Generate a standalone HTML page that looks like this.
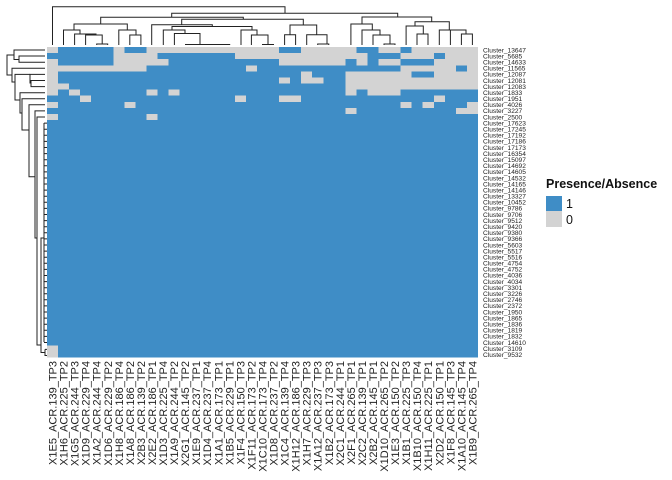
<!DOCTYPE html>
<html><head><meta charset="utf-8"><style>
html,body{margin:0;padding:0;background:#fff;}
svg{display:block;font-family:"Liberation Sans",sans-serif;}
</style></head><body>
<svg width="672" height="480" viewBox="0 0 672 480" xmlns="http://www.w3.org/2000/svg">
<g transform="translate(47,47) scale(11.05,6.09)" shape-rendering="crispEdges">
<rect x="0" y="0" width="39" height="51" fill="#3F8DC6"/>
<g fill="#D3D3D3">
<rect x="0" y="0" width="1" height="1"/><rect x="6" y="0" width="1" height="1"/><rect x="9" y="0" width="12" height="1"/><rect x="23" y="0" width="5" height="1"/><rect x="30" y="0" width="2" height="1"/><rect x="33" y="0" width="6" height="1"/>
<rect x="6" y="1" width="4" height="1"/><rect x="17" y="1" width="12" height="1"/><rect x="32" y="1" width="3" height="1"/><rect x="36" y="1" width="3" height="1"/>
<rect x="0" y="2" width="1" height="1"/><rect x="6" y="2" width="5" height="1"/><rect x="21" y="2" width="6" height="1"/><rect x="28" y="2" width="1" height="1"/><rect x="30" y="2" width="2" height="1"/><rect x="35" y="2" width="4" height="1"/>
<rect x="0" y="3" width="9" height="1"/><rect x="18" y="3" width="1" height="1"/><rect x="32" y="3" width="5" height="1"/><rect x="38" y="3" width="1" height="1"/>
<rect x="0" y="4" width="1" height="1"/><rect x="23" y="4" width="1" height="1"/><rect x="27" y="4" width="6" height="1"/><rect x="35" y="4" width="4" height="1"/>
<rect x="0" y="5" width="1" height="1"/><rect x="21" y="5" width="1" height="1"/><rect x="23" y="5" width="2" height="1"/><rect x="27" y="5" width="12" height="1"/>
<rect x="0" y="6" width="2" height="1"/><rect x="27" y="6" width="12" height="1"/>
<rect x="0" y="7" width="1" height="1"/><rect x="2" y="7" width="1" height="1"/><rect x="9" y="7" width="1" height="1"/><rect x="11" y="7" width="1" height="1"/><rect x="27" y="7" width="1" height="1"/><rect x="29" y="7" width="3" height="1"/>
<rect x="3" y="8" width="1" height="1"/><rect x="17" y="8" width="1" height="1"/><rect x="21" y="8" width="2" height="1"/><rect x="35" y="8" width="1" height="1"/>
<rect x="0" y="9" width="1" height="1"/><rect x="7" y="9" width="1" height="1"/><rect x="32" y="9" width="1" height="1"/><rect x="34" y="9" width="1" height="1"/><rect x="38" y="9" width="1" height="1"/>
<rect x="27" y="10" width="1" height="1"/><rect x="37" y="10" width="2" height="1"/>
<rect x="0" y="11" width="1" height="1"/><rect x="9" y="11" width="1" height="1"/>
<rect x="0" y="49" width="1" height="2"/>
</g></g>

<!-- top dendrogram -->
<g stroke="#222" stroke-width="1" fill="none">
<path d="M52.5,45V6.7H285V13.3"/>
<path d="M171.7,17.3V13.3H397.7V17"/>
<path d="M100.7,24V17.3H243.3V19.3"/>
<path d="M74,30V24H127.3V30"/>
<path d="M63.5,45V30H80V34"/>
<path d="M74.6,45V34H96V35"/>
<path d="M85.6,45V35H102.2V44"/>
<path d="M96.7,45V44H107.7V45"/>
<path d="M118.8,45V30H136V35"/>
<path d="M129.8,45V35H140.9V45"/>
<path d="M181.7,24.7V19.3H303.3V25"/>
<path d="M151.7,45V24.7H212.3V26.5"/>
<path d="M172,30V26.5H252V30"/>
<path d="M163.3,45V30H185V33.5"/>
<path d="M174.4,45V33.5H200V44.5"/>
<path d="M185.5,45V44.5H229.7V45M196.5,44.5V45M207.5,44.5V45M218.6,44.5V45"/>
<path d="M241,45V30H257V35"/>
<path d="M251.4,45V35H268V44.5"/>
<path d="M262.5,45V44.5H273.5V45"/>
<path d="M290,34.7V25H316.7V34.7"/>
<path d="M284.6,45V34.7H295.6V45"/>
<path d="M306.7,45V34.7H327V44"/>
<path d="M317.7,45V44H328.8V45"/>
<path d="M362,24V17H431.7V21.7"/>
<path d="M350.9,45V24H372.3V30"/>
<path d="M362,45V30H380V35"/>
<path d="M373,45V35H390V44"/>
<path d="M384,45V44H395V45"/>
<path d="M415,26V21.7H449.3V30"/>
<path d="M406.1,45V26H423.3V34"/>
<path d="M417,45V34H428V45"/>
<path d="M439.3,45V30H458.3V30"/>
<path d="M458.3,30V30H450.4V45M458.3,30H466V34"/>
<path d="M461.4,45V34H472.4V45"/>
</g>

<!-- left dendrogram -->
<g stroke="#222" stroke-width="1" fill="none">
<path d="M14,55H7V75H12"/>
<path d="M45,50H14V59.5H19"/>
<path d="M45,56H19V62.2H45"/>
<path d="M45,68.3H12V82H15"/>
<path d="M30,74.4H15V100H20"/>
<path d="M45,74.4H30V83H31"/>
<path d="M45,80.5H31V86.6H45"/>
<path d="M45,92.7H20V113H22"/>
<path d="M45,98.7H22V130H29"/>
<path d="M45,104.8H29V176.7H35"/>
<path d="M45,110.9H35V238H37"/>
<path d="M45,117H37V345H41"/>
<path d="M44,238H41V352.5H45"/>
<path d="M44,123V342"/>
<path d="M45,349.4V355.5H47M45,349.4H47"/>
</g>
<g stroke="#222" stroke-width="1">
<path d="M44,123.1H47M44,129.2H47M44,135.3H47M44,141.4H47M44,147.5H47M44,153.6H47M44,159.7H47M44,165.8H47M44,171.9H47M44,178H47M44,184H47M44,190.1H47M44,196.2H47M44,202.3H47M44,208.4H47M44,214.5H47M44,220.6H47M44,226.7H47M44,232.8H47M44,238.9H47M44,245H47M44,251.1H47M44,257.2H47M44,263.3H47M44,269.4H47M44,275.5H47M44,281.6H47M44,287.7H47M44,293.7H47M44,299.8H47M44,305.9H47M44,312H47M44,318.1H47M44,324.2H47M44,330.3H47M44,336.4H47M44,342.5H47"/>
</g>

<!-- row labels -->
<g font-size="6.6" fill="#222">
<text x="483" y="52.3">Cluster_13647</text>
<text x="483" y="58.4">Cluster_5685</text>
<text x="483" y="64.5">Cluster_14633</text>
<text x="483" y="70.6">Cluster_11565</text>
<text x="483" y="76.7">Cluster_12087</text>
<text x="483" y="82.8">Cluster_12081</text>
<text x="483" y="88.9">Cluster_12083</text>
<text x="483" y="95.0">Cluster_1833</text>
<text x="483" y="101.0">Cluster_1951</text>
<text x="483" y="107.1">Cluster_4026</text>
<text x="483" y="113.2">Cluster_3227</text>
<text x="483" y="119.3">Cluster_2500</text>
<text x="483" y="125.4">Cluster_17623</text>
<text x="483" y="131.5">Cluster_17245</text>
<text x="483" y="137.6">Cluster_17192</text>
<text x="483" y="143.7">Cluster_17186</text>
<text x="483" y="149.8">Cluster_17173</text>
<text x="483" y="155.9">Cluster_16354</text>
<text x="483" y="162.0">Cluster_15097</text>
<text x="483" y="168.1">Cluster_14692</text>
<text x="483" y="174.2">Cluster_14605</text>
<text x="483" y="180.3">Cluster_14532</text>
<text x="483" y="186.3">Cluster_14165</text>
<text x="483" y="192.4">Cluster_14146</text>
<text x="483" y="198.5">Cluster_13327</text>
<text x="483" y="204.6">Cluster_10452</text>
<text x="483" y="210.7">Cluster_9786</text>
<text x="483" y="216.8">Cluster_9706</text>
<text x="483" y="222.9">Cluster_9512</text>
<text x="483" y="229.0">Cluster_9420</text>
<text x="483" y="235.1">Cluster_9380</text>
<text x="483" y="241.2">Cluster_9366</text>
<text x="483" y="247.3">Cluster_5603</text>
<text x="483" y="253.4">Cluster_5517</text>
<text x="483" y="259.5">Cluster_5516</text>
<text x="483" y="265.6">Cluster_4754</text>
<text x="483" y="271.6">Cluster_4752</text>
<text x="483" y="277.7">Cluster_4036</text>
<text x="483" y="283.8">Cluster_4034</text>
<text x="483" y="289.9">Cluster_3301</text>
<text x="483" y="296.0">Cluster_3226</text>
<text x="483" y="302.1">Cluster_2746</text>
<text x="483" y="308.2">Cluster_2372</text>
<text x="483" y="314.3">Cluster_1950</text>
<text x="483" y="320.4">Cluster_1865</text>
<text x="483" y="326.5">Cluster_1836</text>
<text x="483" y="332.6">Cluster_1819</text>
<text x="483" y="338.7">Cluster_1832</text>
<text x="483" y="344.8">Cluster_14610</text>
<text x="483" y="350.9">Cluster_3109</text>
<text x="483" y="356.9">Cluster_9532</text>
</g>

<!-- column labels -->
<g font-size="11" fill="#222" text-anchor="end">
<text transform="translate(56.5,361) rotate(-90)">X1E5_ACR.139_TP3</text>
<text transform="translate(67.6,361) rotate(-90)">X1H6_ACR.225_TP2</text>
<text transform="translate(78.6,361) rotate(-90)">X1G5_ACR.244_TP3</text>
<text transform="translate(89.7,361) rotate(-90)">X1D9_ACR.229_TP4</text>
<text transform="translate(100.7,361) rotate(-90)">X1A2_ACR.244_TP4</text>
<text transform="translate(111.8,361) rotate(-90)">X1D6_ACR.229_TP2</text>
<text transform="translate(122.8,361) rotate(-90)">X1H8_ACR.186_TP4</text>
<text transform="translate(133.9,361) rotate(-90)">X1A8_ACR.186_TP2</text>
<text transform="translate(144.9,361) rotate(-90)">X2B3_ACR.139_TP2</text>
<text transform="translate(156.0,361) rotate(-90)">X2E2_ACR.186_TP1</text>
<text transform="translate(167.0,361) rotate(-90)">X1D3_ACR.225_TP4</text>
<text transform="translate(178.1,361) rotate(-90)">X1A9_ACR.244_TP2</text>
<text transform="translate(189.1,361) rotate(-90)">X2G1_ACR.145_TP2</text>
<text transform="translate(200.2,361) rotate(-90)">X1E9_ACR.237_TP1</text>
<text transform="translate(211.2,361) rotate(-90)">X1D4_ACR.237_TP4</text>
<text transform="translate(222.3,361) rotate(-90)">X1A1_ACR.173_TP1</text>
<text transform="translate(233.3,361) rotate(-90)">X1B5_ACR.229_TP1</text>
<text transform="translate(244.4,361) rotate(-90)">X1F4_ACR.150_TP3</text>
<text transform="translate(255.4,361) rotate(-90)">X1F11_ACR.173_TP2</text>
<text transform="translate(266.5,361) rotate(-90)">X1C10_ACR.173_TP4</text>
<text transform="translate(277.5,361) rotate(-90)">X1D8_ACR.237_TP2</text>
<text transform="translate(288.6,361) rotate(-90)">X1C4_ACR.139_TP4</text>
<text transform="translate(299.6,361) rotate(-90)">X1H12_ACR.186_TP3</text>
<text transform="translate(310.7,361) rotate(-90)">X1H7_ACR.229_TP3</text>
<text transform="translate(321.7,361) rotate(-90)">X1A12_ACR.237_TP3</text>
<text transform="translate(332.8,361) rotate(-90)">X1B2_ACR.173_TP3</text>
<text transform="translate(343.8,361) rotate(-90)">X2C1_ACR.244_TP1</text>
<text transform="translate(354.9,361) rotate(-90)">X2F1_ACR.265_TP1</text>
<text transform="translate(365.9,361) rotate(-90)">X2C2_ACR.139_TP1</text>
<text transform="translate(377.0,361) rotate(-90)">X2B2_ACR.145_TP1</text>
<text transform="translate(388.0,361) rotate(-90)">X1D10_ACR.265_TP2</text>
<text transform="translate(399.1,361) rotate(-90)">X1E3_ACR.150_TP2</text>
<text transform="translate(410.1,361) rotate(-90)">X1B1_ACR.225_TP3</text>
<text transform="translate(421.2,361) rotate(-90)">X1B10_ACR.150_TP4</text>
<text transform="translate(432.2,361) rotate(-90)">X1H11_ACR.225_TP1</text>
<text transform="translate(443.3,361) rotate(-90)">X2D2_ACR.150_TP1</text>
<text transform="translate(454.3,361) rotate(-90)">X1F8_ACR.145_TP3</text>
<text transform="translate(465.4,361) rotate(-90)">X1A10_ACR.145_TP4</text>
<text transform="translate(476.4,361) rotate(-90)">X1B9_ACR.265_TP4</text>
</g>

<!-- legend -->
<text x="546" y="188" font-size="12.5" font-weight="bold" fill="#111">Presence/Absence</text>
<rect x="546" y="196" width="16" height="15" fill="#3F8DC6"/>
<rect x="546" y="211" width="16" height="16" fill="#D3D3D3"/>
<text x="566" y="208" font-size="12.5" fill="#111">1</text>
<text x="566" y="224" font-size="12.5" fill="#111">0</text>
</svg>
</body></html>
